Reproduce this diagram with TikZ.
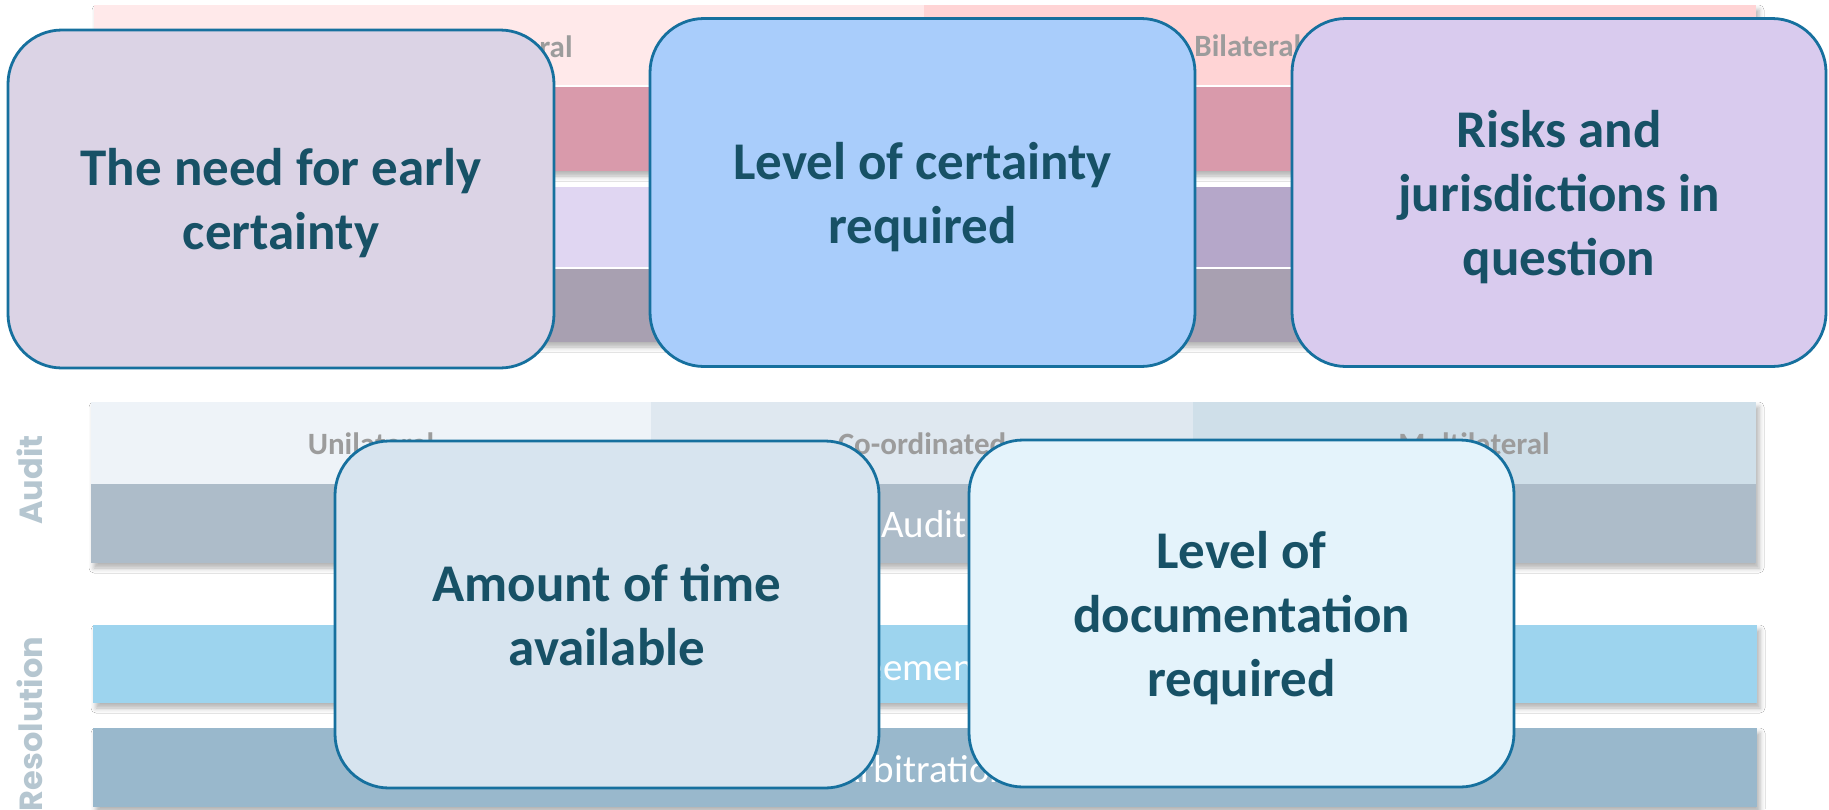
\documentclass[tikz,border=0pt]{standalone}
\usepackage{fontspec}
\setmainfont{Carlito}
\newfontfamily\sidefont{Poppins}
\usetikzlibrary{shadows.blur}

% band colours, upper block
\definecolor{hdrLeft}{HTML}{FFE9EA}
\definecolor{hdrRight}{HTML}{FFD4D5}
\definecolor{rowRose}{HTML}{D99AAB}
\definecolor{rowLilac}{HTML}{E0D6F2}
\definecolor{rowLilacDark}{HTML}{B5A7C9}
\definecolor{rowMauve}{HTML}{A8A0B1}
% band colours, lower block
\definecolor{cellUni}{HTML}{EEF3F8}
\definecolor{cellCo}{HTML}{DFE8F0}
\definecolor{cellMulti}{HTML}{CFDFE9}
\definecolor{rowAudit}{HTML}{ADBCC9}
\definecolor{rowMap}{HTML}{9DD4EE}
\definecolor{rowArb}{HTML}{99B8CC}
% boxes and text
\definecolor{boxLine}{HTML}{16709E}
\definecolor{boxText}{HTML}{175166}
\definecolor{fillOne}{HTML}{DBD3E5}
\definecolor{fillTwo}{HTML}{A9CDFB}
\definecolor{fillThree}{HTML}{D9CBEE}
\definecolor{fillFour}{HTML}{D7E4EF}
\definecolor{fillFive}{HTML}{E4F3FB}
\definecolor{cellText}{HTML}{9C9C9C}
\definecolor{sideText}{HTML}{B5C6D0}

\begin{document}
\begin{tikzpicture}[x=0.5pt,y=-0.5pt,
  bandshadow/.style={fill=white, blur shadow={shadow xshift=1.5pt, shadow yshift=-2.5pt, shadow blur radius=2.5pt, shadow opacity=30}},
  sep/.style={draw=white, line width=0.8pt},
  celllabel/.style={text=cellText, font=\fontsize{15.5}{18}\selectfont\bfseries, inner sep=0pt},
  barlabel/.style={text=white, font=\fontsize{19.5}{23}\selectfont, inner sep=0pt},
  sidelabel/.style={text=sideText, font=\sidefont\bfseries\fontsize{16}{19}\selectfont, rotate=90, inner sep=0pt},
  factor/.style={draw=boxLine, line width=1.4pt, rounded corners=27pt, align=center,
    text=boxText, font=\fontsize{26.5}{32}\selectfont\bfseries, inner sep=0pt, text depth=0pt,
    minimum width=272.5pt, minimum height=174pt}
]
\useasboundingbox (0,0) rectangle (1829,809);
\fill[white] (0,0) rectangle (1829,809);

% ---------- upper block of bands ----------
\path[bandshadow] (94,5) rectangle (1756,171);
\path[bandshadow] (94,187) rectangle (1756,342);
\fill[hdrLeft]  (94,5) rectangle (924,86);
\fill[hdrRight] (924,5) rectangle (1756,86);
\fill[rowRose]  (94,86) rectangle (1756,171);
\fill[rowLilac] (94,187) rectangle (924,268);
\fill[rowLilacDark] (924,187) rectangle (1756,268);
\fill[rowMauve] (94,268) rectangle (1756,342);
\draw[sep] (94,86) -- (1756,86);
\draw[sep] (94,268) -- (1756,268);
\node[celllabel, anchor=base east] (uniTop) at (573,57) {Unilateral};
\node[celllabel, anchor=base west] (biTop) at (1194,56) {Bilateral};

% ---------- lower block of bands ----------
\path[bandshadow] (91,402) rectangle (1756,563);
\path[bandshadow] (93,625) rectangle (1757,703);
\path[bandshadow] (93,728) rectangle (1757,807);
\fill[cellUni]   (91,402) rectangle (651,484);
\fill[cellCo]    (651,402) rectangle (1193,484);
\fill[cellMulti] (1193,402) rectangle (1756,484);
\fill[rowAudit]  (91,484) rectangle (1756,563);
\fill[rowMap]    (93,625) rectangle (1757,703);
\fill[rowArb]    (93,728) rectangle (1757,807);
\node[celllabel, anchor=base] (uniLow) at (371,454) {Unilateral};
\node[celllabel, anchor=base] (coLow) at (922,454) {Co-ordinated};
\node[celllabel, anchor=base] (multiLow) at (1474,454) {Multilateral};
\node[barlabel, anchor=base] (audit) at (924,537) {Audit};
\node[barlabel, anchor=base] (map) at (924,680) {Mutual agreement procedure};
\node[barlabel, anchor=base] (arb) at (924,782) {Arbitration};

% ---------- side captions ----------
\node[sidelabel] (sideAudit) at (30,480) {Audit};
\node[sidelabel] (sideRes) at (30,724) {Resolution};

% ---------- factor boxes ----------
\node[factor, fill=fillOne, minimum width=273pt, minimum height=169pt]
  (early) at (281,199) {The need for early\\certainty};
\node[factor, fill=fillTwo] (certainty) at (922.5,192.5) {Level of certainty\\required};
\node[factor, fill=fillThree, minimum width=267pt] (risks) at (1559,192.5) {Risks and\\jurisdictions in\\question};
\node[factor, fill=fillFour, minimum width=272pt, minimum height=173.5pt]
  (time) at (607,614.5) {Amount of time\\available};
\node[factor, fill=fillFive, minimum height=173.5pt]
  (docs) at (1241.5,613.5) {Level of\\documentation\\required};
\end{tikzpicture}
\end{document}
